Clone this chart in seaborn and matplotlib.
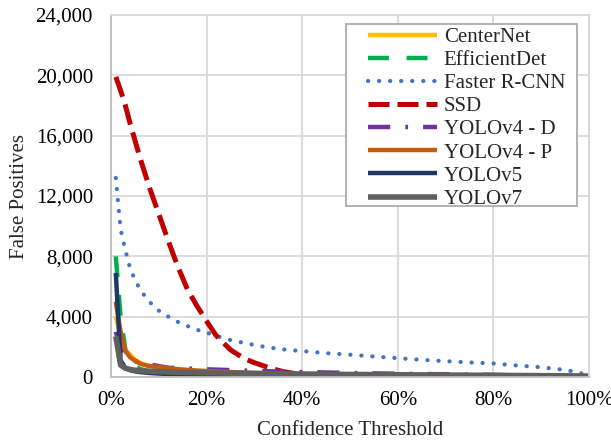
import numpy as np
import pandas as pd
import matplotlib
matplotlib.use("Agg")
import matplotlib.pyplot as plt
import seaborn as sns
from matplotlib.ticker import FuncFormatter, MultipleLocator
from matplotlib.patches import Rectangle

# Confidence threshold (%)
threshold_pct = [1, 2, 3, 4, 5, 6, 7, 8, 10, 12, 14, 16, 18, 20, 22, 25, 28, 30, 33, 36,
                 40, 45, 50, 55, 60, 65, 70, 75, 80, 85, 90, 95, 98, 100]

centernet = [4000, 2800, 1750, 1500, 1150, 950, 820, 730, 620, 540, 480, 430, 390, 360, 330, 290, 260, 240, 215, 195,
             170, 150, 130, 115, 100, 90, 80, 70, 60, 50, 40, 30, 25, 20]
efficientdet = [8000, 4000, 1800, 1000, 700, 550, 450, 380, 300, 250, 200, 170, 150, 130, 110, 90, 80, 70, 60, 50,
                45, 40, 35, 30, 28, 25, 22, 20, 17, 14, 11, 8, 6, 5]
faster_rcnn = [13200, 9800, 8400, 7200, 6450, 5850, 5400, 5000, 4400, 4000, 3650, 3380, 3130, 2950, 2720, 2450, 2250, 2120, 1960, 1830,
               1720, 1580, 1480, 1360, 1250, 1140, 1050, 970, 900, 760, 650, 470, 280, 100]
ssd = [19900, 19000, 18000, 16800, 15700, 14600, 13600, 12600, 10800, 9000, 7300, 5800, 4700, 3700, 2750, 1800, 1200, 950, 620, 360,
       150, 60, 30, 20, 10, 8, 6, 5, 4, 3, 2, 1, 0, 0]
yolov4_d = [3000, 1900, 1400, 1150, 1050, 950, 900, 850, 720, 620, 580, 560, 540, 510, 490, 460, 430, 410, 380, 360,
            330, 300, 270, 240, 220, 200, 185, 165, 140, 115, 95, 75, 60, 50]
yolov4_p = [5000, 3000, 1750, 1300, 1080, 900, 800, 730, 670, 580, 520, 470, 430, 400, 370, 330, 300, 280, 250, 220,
            190, 160, 130, 110, 100, 90, 80, 70, 60, 50, 40, 30, 25, 20]
yolov5 = [6900, 1100, 600, 450, 380, 330, 300, 270, 230, 200, 180, 160, 150, 140, 130, 120, 110, 100, 95, 90,
          85, 80, 75, 70, 65, 60, 55, 50, 45, 40, 35, 30, 25, 20]
yolov7 = [2700, 800, 580, 500, 450, 420, 400, 380, 350, 330, 310, 300, 290, 280, 270, 250, 240, 230, 220, 210,
          200, 185, 170, 160, 150, 140, 130, 120, 110, 100, 90, 80, 70, 60]

series_names = ["CenterNet", "EfficientDet", "Faster R-CNN", "SSD", "YOLOv4 - D", "YOLOv4 - P", "YOLOv5", "YOLOv7"]
series_values = [centernet, efficientdet, faster_rcnn, ssd, yolov4_d, yolov4_p, yolov5, yolov7]

colors = {
    "CenterNet": "#FFC000",
    "EfficientDet": "#00B050",
    "Faster R-CNN": "#4472C4",
    "SSD": "#C00000",
    "YOLOv4 - D": "#7030A0",
    "YOLOv4 - P": "#C55A11",
    "YOLOv5": "#203864",
    "YOLOv7": "#606060",
}
styles = {
    "CenterNet": dict(ls="-", lw=3.2, cap="butt"),
    "EfficientDet": dict(ls=(0, (4.7, 4.0)), lw=3.2, cap="butt"),
    "Faster R-CNN": dict(ls=(0, (0.05, 2.6)), lw=3.0, cap="round"),
    "SSD": dict(ls=(0, (4.2, 1.6)), lw=3.6, cap="butt"),
    "YOLOv4 - D": dict(ls=(0, (5.0, 3.4, 0.6, 3.4)), lw=3.2, cap="butt"),
    "YOLOv4 - P": dict(ls="-", lw=3.2, cap="butt"),
    "YOLOv5": dict(ls="-", lw=3.2, cap="butt"),
    "YOLOv7": dict(ls="-", lw=4.0, cap="butt"),
}

rows = []
for name, vals in zip(series_names, series_values):
    for t, v in zip(threshold_pct, vals):
        rows.append({"Confidence Threshold": t / 100.0, "False Positives": v, "Model": name})
df = pd.DataFrame(rows)

sns.set_style("whitegrid")
plt.rcParams["font.family"] = ["Liberation Serif", "DejaVu Serif"]

fig = plt.figure(figsize=(6.11, 4.42), dpi=100)
ax = fig.add_axes([0.1817, 0.147, 0.7823, 0.819])

for name in series_names:
    sub = df[df["Model"] == name]
    st = styles[name]
    sns.lineplot(data=sub, x="Confidence Threshold", y="False Positives", ax=ax,
                 color=colors[name], linewidth=st["lw"], linestyle=st["ls"],
                 label=name, sort=False, estimator=None)
    line = ax.lines[-1]
    line.set_dash_capstyle(st["cap"])
    line.set_solid_capstyle("butt")

ax.set_xlim(0, 1.0)
ax.set_ylim(0, 24000)
ax.xaxis.set_major_locator(MultipleLocator(0.2))
ax.yaxis.set_major_locator(MultipleLocator(4000))
ax.xaxis.set_major_formatter(FuncFormatter(lambda v, p: f"{v * 100:.0f}%"))
ax.yaxis.set_major_formatter(FuncFormatter(lambda v, p: f"{v:,.0f}"))
ax.grid(True, color="#D9D9D9", linewidth=1.3)
for s in ax.spines.values():
    s.set_color("#D9D9D9")
    s.set_linewidth(1.3)
ax.spines["left"].set_color("#BFBFBF")
ax.spines["bottom"].set_color("#BFBFBF")
ax.tick_params(axis="both", labelsize=15, colors="black", length=0)
ax.tick_params(axis="x", pad=10)
ax.tick_params(axis="y", pad=13)
ax.set_xlabel("Confidence Threshold", fontsize=15, labelpad=8)
ax.set_ylabel("False Positives", fontsize=15, labelpad=5)

# legend box (Excel-style, wider padding on the left)
ax.add_patch(Rectangle((0.4916, 0.4724), 0.4834, 0.5026, transform=ax.transAxes,
                       facecolor="white", edgecolor="#A6A6A6", linewidth=1.2, zorder=5))
leg = ax.legend(loc="upper left", bbox_to_anchor=(0.5377, 0.966), borderaxespad=0,
                fontsize=15, frameon=False, handlelength=3.3,
                handletextpad=0.33, labelspacing=0.17, borderpad=0)
leg.set_zorder(6)
for h, name in zip(leg.get_lines(), series_names):
    h.set_dash_capstyle(styles[name]["cap"])

fig.savefig("out.png", dpi=100)
